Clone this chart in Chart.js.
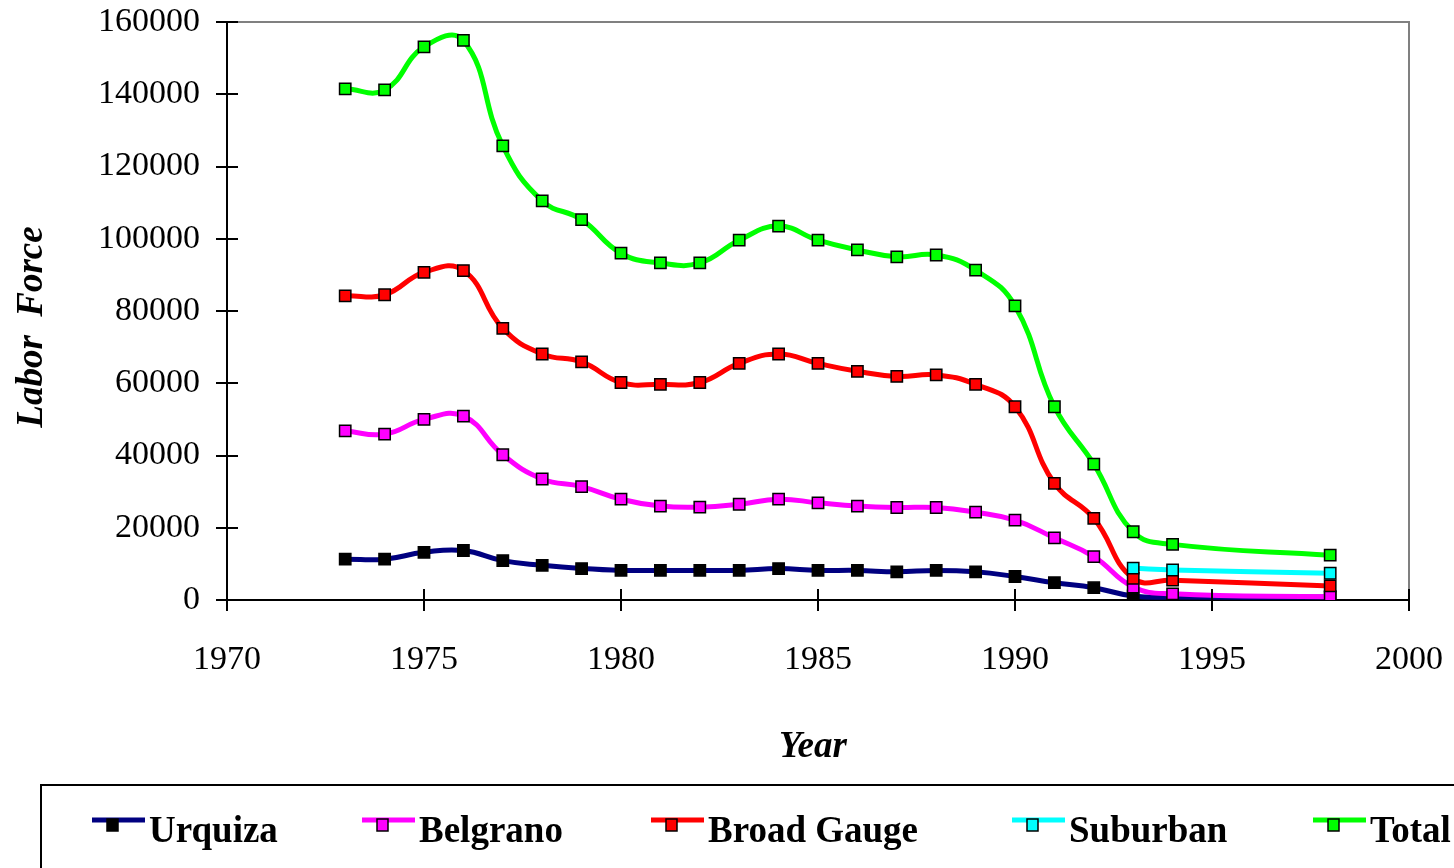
<!DOCTYPE html>
<html lang="en">
<head>
  <meta charset="UTF-8" />
  <title>Labor Force by Year</title>
  <style>
    body { margin: 0; background: #fff; }
    #wrap { width: 1454px; height: 868px; position: relative; overflow: hidden; }
  </style>
</head>
<body>
  <div id="wrap"><canvas id="chart"></canvas></div>

  <script src="https://cdn.jsdelivr.net/npm/chart.js"></script>
  <script>
    // values, in workers
    const years = [1973, 1974, 1975, 1976, 1977, 1978, 1979, 1980, 1981, 1982, 1983,
                   1984, 1985, 1986, 1987, 1988, 1989, 1990, 1991, 1992, 1993, 1994, 1998];
    const urquiza    = [11300, 11300, 13200, 13700, 10900, 9600, 8700, 8200, 8200, 8200, 8200,
                        8700, 8200, 8200, 7800, 8200, 7800, 6500, 4800, 3400, 1100, 800, 800];
    const belgrano   = [46800, 45900, 50000, 50900, 40200, 33500, 31400, 27900, 26000, 25700, 26500,
                        27900, 26900, 26000, 25600, 25600, 24300, 22100, 17200, 12000, 3600, 1700, 900];
    const broadGauge = [84200, 84500, 90700, 91200, 75200, 68100, 65900, 60200, 59700, 60200, 65500,
                        68100, 65500, 63300, 61900, 62300, 59700, 53500, 32300, 22600, 6000, 5500, 3900];
    const suburbanYears = [1993, 1994, 1998];
    const suburban   = [8800, 8300, 7400];
    const total      = [141500, 141200, 153100, 154900, 125700, 110500, 105300, 96000, 93300, 93300, 99600,
                        103500, 99600, 96900, 95000, 95500, 91300, 81400, 53500, 37600, 18900, 15400, 12400];

    const seriesNames = ["Urquiza", "Belgrano", "Broad Gauge", "Suburban", "Total"];
    const lineColors  = ["#000080", "#ff00ff", "#ff0000", "#00ffff", "#00ff00"];
    const markColors  = ["#000000", "#ff00ff", "#ff0000", "#00ffff", "#00ff00"];

    const FONT = "'Liberation Serif', 'Times New Roman', serif";

    function pts(xs, ys) {
      return xs.map((x, i) => ({ x: x, y: ys[i] }));
    }

    const seriesData = [
      pts(years, urquiza),
      pts(years, belgrano),
      pts(years, broadGauge),
      pts(suburbanYears, suburban),
      pts(years, total)
    ];

    const datasets = seriesNames.map((name, i) => ({
      label: name,
      data: seriesData[i],
      borderColor: lineColors[i],
      borderWidth: 5,
      backgroundColor: markColors[i],
      pointBackgroundColor: markColors[i],
      pointBorderColor: "#000",
      pointBorderWidth: 1.5,
      pointStyle: "rect",
      pointRadius: 8,
      tension: 0.45,
      order: 5 - i   // later series drawn on top, like the original
    }));

    // plot frame, inner tick halves, axis titles and the legend box
    const extras = {
      id: "extras",
      beforeDraw(chart) {
        const { ctx, chartArea: a } = chart;
        ctx.save();
        ctx.strokeStyle = "#808080";
        ctx.lineWidth = 2;
        ctx.beginPath();
        ctx.moveTo(a.left, a.top);
        ctx.lineTo(a.right, a.top);
        ctx.lineTo(a.right, a.bottom);
        ctx.stroke();
        ctx.restore();
      },
      afterDraw(chart) {
        const { ctx, chartArea: a, scales } = chart;
        ctx.save();

        // ticks cross the axes
        ctx.strokeStyle = "#000";
        ctx.lineWidth = 2;
        ctx.beginPath();
        scales.y.ticks.forEach(t => {
          const y = Math.round(scales.y.getPixelForValue(t.value));
          ctx.moveTo(a.left, y);
          ctx.lineTo(a.left + 11, y);
        });
        scales.x.ticks.forEach(t => {
          const x = Math.round(scales.x.getPixelForValue(t.value));
          ctx.moveTo(x, a.bottom);
          ctx.lineTo(x, a.bottom - 11);
        });
        ctx.stroke();

        // axis titles
        ctx.fillStyle = "#000";
        ctx.font = "italic bold 37px " + FONT;
        ctx.textAlign = "center";
        ctx.textBaseline = "alphabetic";
        ctx.fillText("Year", (a.left + a.right) / 2 - 5, 757);
        ctx.save();
        ctx.translate(42, 327);
        ctx.rotate(-Math.PI / 2);
        ctx.fillText("Labor  Force", 0, 0);
        ctx.restore();

        // legend
        ctx.strokeStyle = "#000";
        ctx.lineWidth = 2;
        ctx.strokeRect(41, 785, 1500, 200);

        const legendX = [92, 362, 651, 1012, 1313];
        ctx.font = "bold 37px " + FONT;
        ctx.textAlign = "left";
        seriesNames.forEach((name, i) => {
          const x0 = legendX[i];
          ctx.strokeStyle = lineColors[i];
          ctx.lineWidth = 5;
          ctx.beginPath();
          ctx.moveTo(x0, 820);
          ctx.lineTo(x0 + 53, 820);
          ctx.stroke();
          ctx.fillStyle = markColors[i];
          ctx.fillRect(x0 + 15, 819, 11, 12);
          ctx.strokeStyle = "#000";
          ctx.lineWidth = 1.5;
          ctx.strokeRect(x0 + 15, 819, 11, 12);
          ctx.fillStyle = "#000";
          ctx.fillText(name, x0 + 57, 842);
        });

        ctx.restore();
      }
    };

    new Chart(document.getElementById("chart"), {
      type: "line",
      data: { datasets },
      options: {
        responsive: true,
        maintainAspectRatio: false,
        animation: false,
        layout: { padding: { top: 22, right: 45, bottom: 0, left: 0 } },
        plugins: {
          legend: { display: false },
          tooltip: { enabled: false }
        },
        scales: {
          x: {
            type: "linear",
            min: 1970,
            max: 2000,
            ticks: {
              stepSize: 5,
              maxRotation: 0,
              autoSkip: false,
              padding: 29,
              color: "#000",
              font: { family: FONT, size: 34 },
              callback: v => String(v)
            },
            grid: { drawOnChartArea: false, tickLength: 11, color: "#000", lineWidth: 2 },
            border: { color: "#000", width: 2 },
            afterFit(scale) {
              scale.height = 268;
              scale.paddingLeft = 0;
              scale.paddingRight = 0;
            }
          },
          y: {
            min: 0,
            max: 160000,
            ticks: {
              stepSize: 20000,
              padding: 16,
              color: "#000",
              font: { family: FONT, size: 34 },
              callback: v => String(v)
            },
            grid: { drawOnChartArea: false, tickLength: 11, color: "#000", lineWidth: 2 },
            border: { color: "#000", width: 2 },
            afterFit(scale) {
              scale.width = 227;
              scale.paddingTop = 0;
              scale.paddingBottom = 0;
            }
          }
        }
      },
      plugins: [extras]
    });
  </script>
</body>
</html>
